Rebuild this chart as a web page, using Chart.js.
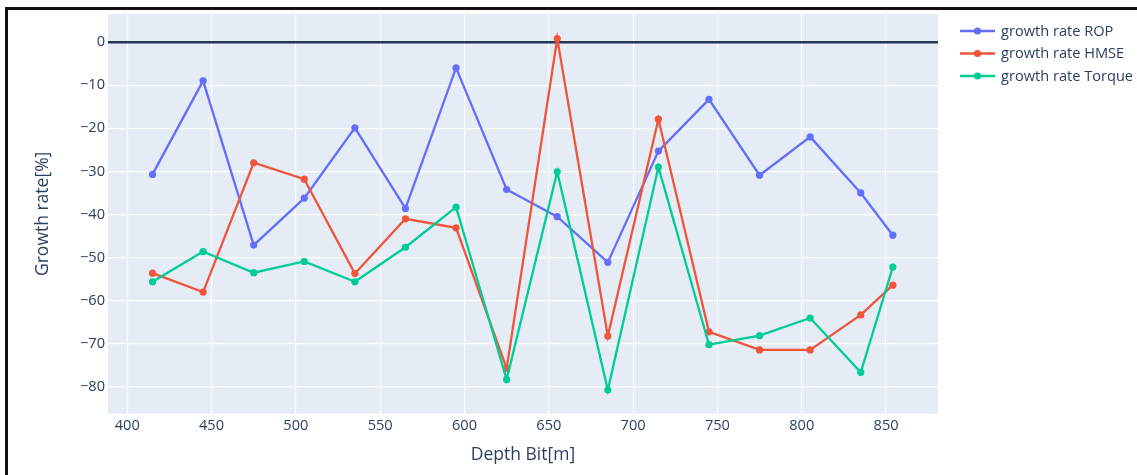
<!DOCTYPE html>
<html>
<head>
<meta charset="utf-8">
<script src="https://cdn.jsdelivr.net/npm/chart.js@4/dist/chart.umd.min.js"></script>
<style>
  html, body { margin: 0; padding: 0; background: #fff; }
  #wrap { position: relative; width: 1137px; height: 475px; }
  #frame { position: absolute; left: 5px; top: 7px; right: 0; bottom: 0;
           border-left: 3px solid #111; border-top: 3px solid #111; pointer-events: none; }
</style>
</head>
<body>
<div id="wrap">
  <canvas id="growth" width="1137" height="475"></canvas>
  <div id="frame"></div>
</div>
<script>
const depth = [415, 445, 475, 505, 535, 565, 595, 625, 655, 685, 715, 745, 775, 805, 835, 854];
const ropRate = [-30.7, -9.0, -47.1, -36.2, -19.9, -38.6, -6.0, -34.2, -40.5, -51.1, -25.3, -13.3, -30.9, -22.0, -35.0, -44.8];
const hmseRate = [-53.6, -58.0, -28.0, -31.8, -53.7, -41.0, -43.1, -75.7, 0.8, -68.2, -17.9, -67.2, -71.4, -71.4, -63.3, -56.4];
const torqueRate = [-55.6, -48.6, -53.5, -50.9, -55.6, -47.6, -38.3, -78.3, -30.1, -80.7, -29.0, -70.2, -68.1, -64.0, -76.6, -52.2];

const seriesNames = ['growth rate ROP', 'growth rate HMSE', 'growth rate Torque'];
const seriesColors = ['#636efa', '#ef553b', '#00cc96'];

const xTicks = [400, 450, 500, 550, 600, 650, 700, 750, 800, 850];
const yTicks = [0, -10, -20, -30, -40, -50, -60, -70, -80];

const inkColor = '#2a3f5f';
const fontFamily = '"Open Sans", "Noto Sans", Arial, sans-serif';

function toPoints(ys) {
  return depth.map((x, i) => ({ x, y: ys[i] }));
}

function series(idx, ys) {
  return {
    label: seriesNames[idx],
    data: toPoints(ys),
    borderColor: seriesColors[idx],
    backgroundColor: seriesColors[idx],
    borderWidth: 2.3,
    pointRadius: 3.6,
    pointBorderWidth: 0,
    pointHoverRadius: 4,
    tension: 0,
    order: 3 - idx,
  };
}

// plot background
const plotBg = {
  id: 'plotBg',
  beforeDraw(chart) {
    const { ctx, chartArea: a } = chart;
    ctx.save();
    ctx.fillStyle = '#e5ecf6';
    ctx.fillRect(a.left, a.top, a.right - a.left, a.bottom - a.top);
    ctx.restore();
  },
};

// legend on the right: line + dot + label
const sideLegend = {
  id: 'sideLegend',
  afterDraw(chart) {
    const { ctx } = chart;
    ctx.save();
    ctx.font = '14.6px ' + fontFamily;
    ctx.textBaseline = 'middle';
    seriesNames.forEach((name, i) => {
      const y = 31 + i * 22.5;
      ctx.strokeStyle = seriesColors[i];
      ctx.lineWidth = 2.3;
      ctx.beginPath();
      ctx.moveTo(960, y);
      ctx.lineTo(995, y);
      ctx.stroke();
      ctx.fillStyle = seriesColors[i];
      ctx.beginPath();
      ctx.arc(977.5, y, 3.6, 0, Math.PI * 2);
      ctx.fill();
      ctx.fillStyle = inkColor;
      ctx.fillText(name, 1001, y + 0.5);
    });
    ctx.restore();
  },
};

const minus = v => (v < 0 ? '\u2212' + Math.abs(v) : String(v));

new Chart(document.getElementById('growth'), {
  type: 'line',
  data: {
    datasets: [series(0, ropRate), series(1, hmseRate), series(2, torqueRate)],
  },
  options: {
    responsive: false,
    animation: false,
    layout: { padding: { top: 14, right: 199, left: 0, bottom: 0 } },
    plugins: {
      legend: { display: false },
      tooltip: { enabled: false },
    },
    scales: {
      x: {
        type: 'linear',
        min: 388.6,
        max: 880.8,
        afterBuildTicks: s => { s.ticks = xTicks.map(v => ({ value: v })); },
        afterFit: s => { s.height = 61.3; },
        grid: { color: '#ffffff', lineWidth: 1.2, drawTicks: false },
        border: { display: false },
        ticks: {
          color: inkColor,
          font: { family: fontFamily, size: 14.6 },
          padding: 3,
          maxRotation: 0,
          callback: v => minus(v),
        },
        title: {
          display: true,
          text: 'Depth Bit[m]',
          color: inkColor,
          font: { family: fontFamily, size: 17.5 },
          padding: { top: 0, bottom: 9.5 },
        },
      },
      y: {
        min: -86.2,
        max: 6.5,
        afterBuildTicks: s => { s.ticks = yTicks.map(v => ({ value: v })); },
        afterFit: s => { s.width = 108; },
        grid: {
          drawTicks: false,
          color: c => (c.tick && c.tick.value === 0 ? '#253554' : '#ffffff'),
          lineWidth: c => (c.tick && c.tick.value === 0 ? 2.4 : 1.2),
        },
        border: { display: false },
        ticks: {
          color: inkColor,
          font: { family: fontFamily, size: 14.6 },
          padding: 3,
          callback: v => minus(v),
        },
        title: {
          display: true,
          text: 'Growth rate[%]',
          color: inkColor,
          font: { family: fontFamily, size: 17.5 },
          padding: { top: 32.5, bottom: 0 },
        },
      },
    },
  },
  plugins: [plotBg, sideLegend],
});
</script>
</body>
</html>
